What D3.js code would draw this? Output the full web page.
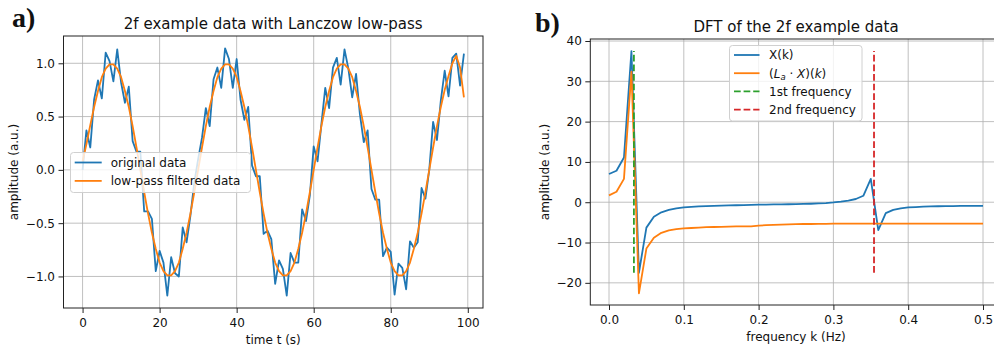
<!DOCTYPE html>
<html>
<head>
<meta charset="utf-8">
<script src="https://cdn.jsdelivr.net/npm/d3@7"></script>
<style>
  body { margin: 0; background: #fff; }
  svg { display: block; font-family: "DejaVu Sans", sans-serif; }
</style>
</head>
<body>
<div id="chart"></div>
<script>
// panel a: time series (t = 0..99 s)
var times = d3.range(0, 100)
var original = [
  0.00, 0.37, 0.21, 0.66, 0.84, 0.67, 1.10, 1.02, 0.83, 1.13,
  0.82, 0.63, 0.78, 0.27, 0.17, 0.17, -0.39, -0.39, -0.46, -0.95,
  -0.76, -0.87, -1.18, -0.82, -0.97, -1.00, -0.54, -0.68, -0.43, -0.12,
  0.10, 0.30, 0.58, 0.41, 0.85, 0.96, 0.77, 1.14, 1.04, 0.77,
  1.04, 0.66, 0.47, 0.59, 0.04, -0.06, -0.06, -0.60, -0.57, -0.65,
  -1.07, -0.85, -0.93, -1.18, -0.78, -0.87, -0.87, -0.37, -0.48, -0.24,
  0.22, 0.08, 0.43, 0.77, 0.58, 0.96, 1.05, 0.80, 1.13, 0.95,
  0.68, 0.90, 0.52, 0.26, 0.37, -0.18, -0.28, -0.28, -0.81, -0.73,
  -0.77, -1.17, -0.88, -0.92, -1.12, -0.67, -0.73, -0.68, -0.17, -0.27,
  0.00, 0.45, 0.28, 0.65, 0.93, 0.69, 1.05, 1.09, 0.79, 1.09
]
var filtered = [
  0.08, 0.24, 0.42, 0.59, 0.74, 0.87, 0.95, 0.99, 0.99, 0.95,
  0.87, 0.74, 0.59, 0.41, 0.21, 0.00, -0.21, -0.41, -0.59, -0.74,
  -0.87, -0.95, -0.99, -0.99, -0.95, -0.87, -0.74, -0.59, -0.41, -0.21,
  0.00, 0.21, 0.41, 0.59, 0.74, 0.87, 0.95, 0.99, 0.99, 0.95,
  0.87, 0.74, 0.59, 0.41, 0.21, 0.00, -0.21, -0.41, -0.59, -0.74,
  -0.87, -0.95, -0.99, -0.99, -0.95, -0.87, -0.74, -0.59, -0.41, -0.21,
  0.00, 0.21, 0.41, 0.59, 0.74, 0.87, 0.95, 0.99, 0.99, 0.95,
  0.87, 0.74, 0.59, 0.41, 0.21, 0.00, -0.21, -0.41, -0.59, -0.74,
  -0.87, -0.95, -0.99, -0.99, -0.95, -0.87, -0.74, -0.59, -0.41, -0.21,
  0.00, 0.21, 0.41, 0.59, 0.75, 0.88, 1.00, 1.07, 0.96, 0.68
]
var timeTicks = [0, 20, 40, 60, 80, 100]
var ampTicks = [-1.0, -0.5, 0.0, 0.5, 1.0]

// panel b: DFT (k = 0..0.5 Hz, step 0.01)
var freqs = d3.range(0, 51).map(function(i) { return i / 100 })
var dft = [
  7.0, 7.8, 11.1, 37.5, -17.5, -6.3, -3.6, -2.5, -1.9, -1.5,
  -1.3, -1.15, -1.05, -0.95, -0.9, -0.85, -0.8, -0.75, -0.7, -0.65,
  -0.6, -0.58, -0.55, -0.52, -0.5, -0.47, -0.43, -0.38, -0.3, -0.2,
  -0.05, 0.15, 0.4, 0.8, 1.6, 5.8, -6.9, -2.7, -1.9, -1.5,
  -1.3, -1.2, -1.1, -1.05, -1.0, -0.98, -0.95, -0.93, -0.92, -0.91,
  -0.9
]
var dftFiltered = [
  1.7, 2.6, 5.8, 32.4, -22.6, -11.5, -8.8, -7.6, -7.0, -6.7,
  -6.5, -6.4, -6.3, -6.2, -6.15, -6.1, -6.05, -6.0, -6.0, -6.0,
  -5.8, -5.7, -5.6, -5.55, -5.5, -5.45, -5.4, -5.4, -5.35, -5.35,
  -5.3, -5.3, -5.3, -5.3, -5.3, -5.3, -5.3, -5.3, -5.3, -5.3,
  -5.3, -5.3, -5.3, -5.3, -5.3, -5.3, -5.3, -5.3, -5.3, -5.3,
  -5.3
]
var firstFreq = 0.0333
var secondFreq = 0.3543
var markerRange = [-17.5, 37.5]
var freqTicks = [0.0, 0.1, 0.2, 0.3, 0.4, 0.5]
var dftTicks = [-20, -10, 0, 10, 20, 30, 40]

var W = 994, H = 347
var blue = "#1f77b4", orange = "#ff7f0e", green = "#2ca02c", red = "#d62728"

var svg = d3.select("#chart").append("svg")
    .attr("width", W)
    .attr("height", H)

function drawFrame(g, x, y, xTicks, yTicks, xFmt, yFmt) {
  var x0 = x.range()[0], x1 = x.range()[1]
  var y0 = y.range()[0], y1 = y.range()[1]

  // grid
  g.append("g").selectAll("line.gx")
    .data(xTicks).enter().append("line")
    .attr("x1", function(d) { return x(d) }).attr("x2", function(d) { return x(d) })
    .attr("y1", y0).attr("y2", y1)
    .attr("stroke", "#b0b0b0").attr("stroke-width", 0.8)
  g.append("g").selectAll("line.gy")
    .data(yTicks).enter().append("line")
    .attr("x1", x0).attr("x2", x1)
    .attr("y1", function(d) { return y(d) }).attr("y2", function(d) { return y(d) })
    .attr("stroke", "#b0b0b0").attr("stroke-width", 0.8)

  var ax = g.append("g")
    .attr("transform", "translate(0," + y0 + ")")
    .call(d3.axisBottom(x).tickValues(xTicks).tickFormat(xFmt).tickSize(5).tickPadding(5.5))
  var ay = g.append("g")
    .attr("transform", "translate(" + x0 + ",0)")
    .call(d3.axisLeft(y).tickValues(yTicks).tickFormat(yFmt).tickSize(5).tickPadding(3.5))
  ;[ax, ay].forEach(function(a) {
    a.select(".domain").remove()
    a.selectAll("line").attr("stroke", "#222").attr("stroke-width", 1)
    a.selectAll("text").attr("font-size", "12px").attr("fill", "#111")
      .attr("font-family", "DejaVu Sans, sans-serif")
  })
}

function drawSpines(g, x, y) {
  var x0 = x.range()[0], x1 = x.range()[1]
  var y0 = y.range()[0], y1 = y.range()[1]
  g.append("rect")
    .attr("x", x0).attr("y", y1)
    .attr("width", x1 - x0).attr("height", y0 - y1)
    .attr("fill", "none").attr("stroke", "#222").attr("stroke-width", 1)
}

// ---------- panel a ----------
var xa = d3.scaleLinear().domain([-4.95, 103.95]).range([63.5, 483])
var ya = d3.scaleLinear().domain([-1.296, 1.256]).range([308, 36])
var ga = svg.append("g")
drawFrame(ga, xa, ya, timeTicks, ampTicks, d3.format("d"), d3.format(".1f"))

var lineA = d3.line()
    .x(function(d, i) { return xa(times[i]) })
    .y(function(d) { return ya(d) })

ga.append("path").datum(original)
  .attr("d", lineA)
  .attr("fill", "none").attr("stroke", blue).attr("stroke-width", 1.8)
  .attr("stroke-linejoin", "round")
ga.append("path").datum(filtered)
  .attr("d", lineA)
  .attr("fill", "none").attr("stroke", orange).attr("stroke-width", 1.8)
  .attr("stroke-linejoin", "round")
drawSpines(ga, xa, ya)

ga.append("text").text("2f example data with Lanczow low-pass")
  .attr("x", (63.5 + 483) / 2).attr("y", 28.5)
  .attr("text-anchor", "middle").attr("font-size", "15px").attr("fill", "#111")
ga.append("text").text("time t (s)")
  .attr("x", (63.5 + 483) / 2).attr("y", 344)
  .attr("text-anchor", "middle").attr("font-size", "12px").attr("fill", "#111")
ga.append("text").text("amplitude (a.u.)")
  .attr("transform", "translate(18," + (308 + 36) / 2 + ") rotate(-90)")
  .attr("text-anchor", "middle").attr("font-size", "12px").attr("fill", "#111")
svg.append("text").text("a)")
  .attr("x", 12).attr("y", 27)
  .attr("font-family", "Liberation Serif, serif").attr("font-weight", "bold")
  .attr("font-size", "28px").attr("fill", "#111")

// legend a
var legA = ga.append("g")
legA.append("rect")
  .attr("x", 70.5).attr("y", 152.5).attr("width", 180).attr("height", 40)
  .attr("rx", 3).attr("fill", "#fff").attr("fill-opacity", 0.8)
  .attr("stroke", "#d0d0d0").attr("stroke-width", 1)
var legAItems = [
  { label: "original data", color: blue },
  { label: "low-pass filtered data", color: orange }
]
legAItems.forEach(function(it, i) {
  var yy = 162.5 + i * 18.4
  legA.append("line")
    .attr("x1", 74.7).attr("x2", 101.7).attr("y1", yy).attr("y2", yy)
    .attr("stroke", it.color).attr("stroke-width", 1.8)
  legA.append("text").text(it.label)
    .attr("x", 110.7).attr("y", yy + 4.3)
    .attr("font-size", "12px").attr("fill", "#111")
})

// ---------- panel b ----------
var xb = d3.scaleLinear().domain([-0.025, 0.525]).range([590.3, 1001.7])
var yb = d3.scaleLinear().domain([-25.5, 40.5]).range([305, 39])
var gb = svg.append("g")
drawFrame(gb, xb, yb, freqTicks, dftTicks, d3.format(".1f"), d3.format("d"))

var lineB = d3.line()
    .x(function(d, i) { return xb(freqs[i]) })
    .y(function(d) { return yb(d) })

gb.append("path").datum(dft)
  .attr("d", lineB)
  .attr("fill", "none").attr("stroke", blue).attr("stroke-width", 1.8)
  .attr("stroke-linejoin", "round")
gb.append("path").datum(dftFiltered)
  .attr("d", lineB)
  .attr("fill", "none").attr("stroke", orange).attr("stroke-width", 1.8)
  .attr("stroke-linejoin", "round")
gb.append("line")
  .attr("x1", xb(firstFreq)).attr("x2", xb(firstFreq))
  .attr("y1", yb(markerRange[0])).attr("y2", yb(markerRange[1]))
  .attr("stroke", green).attr("stroke-width", 1.8).attr("stroke-dasharray", "6.7,2.9")
gb.append("line")
  .attr("x1", xb(secondFreq)).attr("x2", xb(secondFreq))
  .attr("y1", yb(markerRange[0])).attr("y2", yb(markerRange[1]))
  .attr("stroke", red).attr("stroke-width", 1.8).attr("stroke-dasharray", "6.7,2.9")
drawSpines(gb, xb, yb)

gb.append("text").text("DFT of the 2f example data")
  .attr("x", 796).attr("y", 31.5)
  .attr("text-anchor", "middle").attr("font-size", "15px").attr("fill", "#111")
gb.append("text").text("frequency k (Hz)")
  .attr("x", 796).attr("y", 341)
  .attr("text-anchor", "middle").attr("font-size", "12px").attr("fill", "#111")
gb.append("text").text("amplitude (a.u.)")
  .attr("transform", "translate(548.5," + (305 + 39) / 2 + ") rotate(-90)")
  .attr("text-anchor", "middle").attr("font-size", "12px").attr("fill", "#111")
svg.append("text").text("b)")
  .attr("x", 535).attr("y", 32)
  .attr("font-family", "Liberation Serif, serif").attr("font-weight", "bold")
  .attr("font-size", "28px").attr("fill", "#111")

// legend b
var legB = gb.append("g")
legB.append("rect")
  .attr("x", 729.5).attr("y", 45.5).attr("width", 132.5).attr("height", 75.5)
  .attr("rx", 3).attr("fill", "#fff").attr("fill-opacity", 0.8)
  .attr("stroke", "#d0d0d0").attr("stroke-width", 1)
var legBItems = [
  { label: "X(k)", color: blue, dash: null },
  { label: null, color: orange, dash: null },
  { label: "1st frequency", color: green, dash: "6.7,2.9" },
  { label: "2nd frequency", color: red, dash: "6.7,2.9" }
]
legBItems.forEach(function(it, i) {
  var yy = 55 + i * 18.2
  legB.append("line")
    .attr("x1", 734).attr("x2", 759.5).attr("y1", yy).attr("y2", yy)
    .attr("stroke", it.color).attr("stroke-width", 1.8)
    .attr("stroke-dasharray", it.dash)
  var t = legB.append("text")
    .attr("x", 769).attr("y", yy + 4.3)
    .attr("font-size", "12px").attr("fill", "#111")
  if (it.label) {
    t.text(it.label)
  } else {
    // (L_a · X)(k) in math style
    t.append("tspan").text("(")
    t.append("tspan").text("L").attr("font-style", "italic")
    t.append("tspan").text("a").attr("font-style", "italic")
      .attr("font-size", "8.5px").attr("dy", 2.5)
    t.append("tspan").text(" \u00b7 ").attr("dy", -2.5)
    t.append("tspan").text("X").attr("font-style", "italic")
    t.append("tspan").text(")(")
    t.append("tspan").text("k").attr("font-style", "italic")
    t.append("tspan").text(")")
  }
})
</script>
</body>
</html>
